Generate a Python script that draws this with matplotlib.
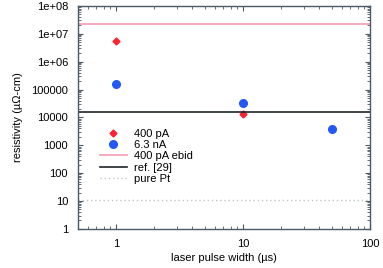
import numpy as np
import matplotlib
matplotlib.use("Agg")
import matplotlib.pyplot as plt
from matplotlib.ticker import LogLocator, FixedLocator, FixedFormatter, NullFormatter

plt.rcParams['font.family'] = ['Liberation Sans', 'DejaVu Sans']

# data
pulse_400pA = [1, 10]
rho_400pA = [5.4e6, 1.3e4]
pulse_63nA = [1, 10, 50]
rho_63nA = [1.56e5, 3.3e4, 3.9e3]
rho_ebid = 2.2e7
rho_ref29 = 1.5e4
rho_pt = 10.6

y_ticks = [1, 10, 100, 1000, 1e4, 1e5, 1e6, 1e7, 1e8]
y_labels = ['1', '10', '100', '1000', '10000', '100000', '1e+06', '1e+07', '1e+08']
x_ticks = [1, 10, 100]
x_labels = ['1', '10', '100']

fig = plt.figure(figsize=(3.83, 2.68), dpi=100)
ax = fig.add_axes([0.203, 0.146, 0.763, 0.832])

ax.plot(pulse_400pA, rho_400pA, linestyle='none', marker='D', ms=3.5,
        color='#ff2030', label='400 pA')
ax.plot(pulse_63nA, rho_63nA, linestyle='none', marker='o', ms=5.5,
        color='#2458f5', label='6.3 nA')
ax.axhline(rho_ebid, color='#f7a3b8', lw=1.3, label='400 pA ebid')
ax.axhline(rho_ref29, color='#1e2426', lw=1.2, label='ref. [29]')
ax.axhline(rho_pt, color='#c0c8c8', lw=1.0, linestyle=(0, (1, 2)), label='pure Pt')

ax.set_xscale('log')
ax.set_yscale('log')
ax.set_xlim(0.5, 100)
ax.set_ylim(1, 1e8)

ax.yaxis.set_major_locator(FixedLocator(y_ticks))
ax.yaxis.set_major_formatter(FixedFormatter(y_labels))
ax.yaxis.set_minor_locator(LogLocator(base=10, subs=np.arange(2, 10), numticks=20))
ax.yaxis.set_minor_formatter(NullFormatter())
ax.xaxis.set_major_locator(FixedLocator(x_ticks))
ax.xaxis.set_major_formatter(FixedFormatter(x_labels))
ax.xaxis.set_minor_locator(LogLocator(base=10, subs=np.arange(2, 10), numticks=20))
ax.xaxis.set_minor_formatter(NullFormatter())

spine_col = '#4a5a66'
for s in ax.spines.values():
    s.set_color(spine_col)
    s.set_linewidth(1.0)
ax.tick_params(which='both', direction='in', top=True, right=True,
               colors=spine_col, labelcolor='black', labelsize=8)
ax.tick_params(axis='y', which='major', length=3.5, width=0.8, pad=7)
ax.tick_params(axis='x', which='major', length=3.5, width=0.8, pad=7)
ax.tick_params(which='minor', length=2, width=0.6)

ax.set_xlabel('laser pulse width (\u00b5s)', fontsize=8, labelpad=3)
ax.set_ylabel('resistivity (\u00b5\u03a9-cm)', fontsize=8, labelpad=6)

ax.legend(loc='upper left', bbox_to_anchor=(0.076, 0.45), frameon=False,
          fontsize=8, handlelength=2.4, handletextpad=0.7,
          labelspacing=0.12, borderaxespad=0, borderpad=0, markerfirst=True)

fig.savefig('out.png', dpi=100)
